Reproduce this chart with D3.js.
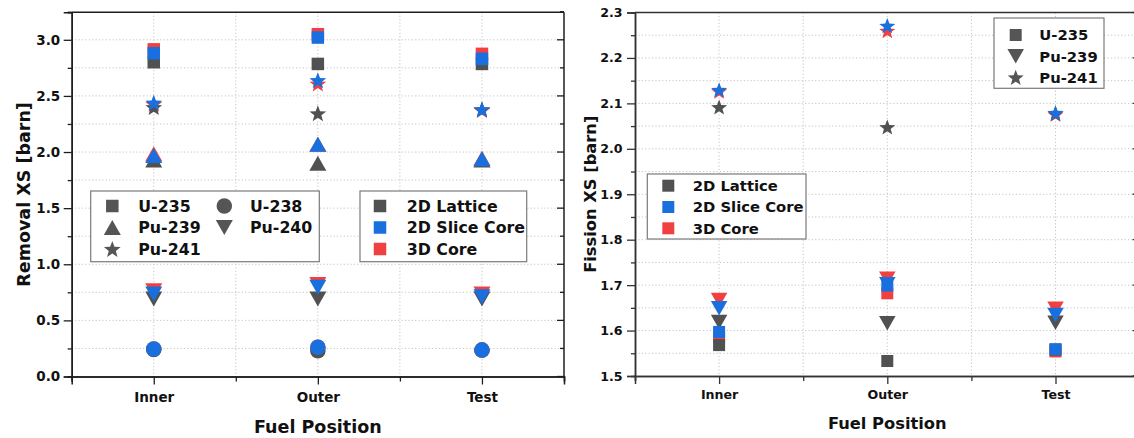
<!DOCTYPE html>
<html>
<head>
<meta charset="utf-8">
<script src="https://cdn.jsdelivr.net/npm/d3@7"></script>
<style>
  body { margin: 0; background: #fff; }
  svg { display: block; }
  text { font-family: "DejaVu Sans", sans-serif; font-weight: bold; fill: #111; }
</style>
</head>
<body>
<svg id="chart" width="1134" height="438"></svg>
<script>
// ---- data ----
const positions = ["Inner", "Outer", "Test"];
const methods = ["2D Lattice", "2D Slice Core", "3D Core"];
const methodColors = ["#515151", "#1a6fdf", "#f14040"];

// Removal cross sections [barn]; rows follow `methods`, columns follow `positions`
const removalU235 = [[2.80, 2.785, 2.785], [2.88, 3.02, 2.83], [2.915, 3.05, 2.875]];
const removalU238 = [[0.24, 0.23, 0.235], [0.245, 0.26, 0.235], [0.245, 0.26, 0.235]];
const removalPu239 = [[1.93, 1.90, 1.93], [1.97, 2.07, 1.94], [1.985, 2.07, 1.945]];
const removalPu240 = [[0.69, 0.69, 0.69], [0.735, 0.795, 0.71], [0.765, 0.82, 0.735]];
const removalPu241 = [[2.40, 2.345, 2.38], [2.44, 2.64, 2.38], [2.43, 2.61, 2.375]];

// Fission cross sections [barn]
const fissionU235 = [[1.568, 1.533, 1.558], [1.597, 1.699, 1.559], [1.585, 1.682, 1.554]];
const fissionPu239 = [[1.619, 1.616, 1.617], [1.649, 1.702, 1.634], [1.667, 1.714, 1.648]];
const fissionPu241 = [[2.092, 2.048, 2.078], [2.130, 2.271, 2.079], [2.127, 2.26, 2.076]];

const removalTicks = [0.0, 0.5, 1.0, 1.5, 2.0, 2.5, 3.0];
const removalMinor = [0.25, 0.75, 1.25, 1.75, 2.25, 2.75, 3.25];
const fissionTicks = [1.5, 1.6, 1.7, 1.8, 1.9, 2.0, 2.1, 2.2, 2.3];
const fissionMinor = [1.55, 1.65, 1.75, 1.85, 1.95, 2.05, 2.15, 2.25];

// ---- marker shapes ----
function markerPath(kind, sz) {
  const p = d3.path();
  if (kind === "square") {
    const a = sz.square / 2;
    p.rect(-a, -a, 2 * a, 2 * a);
  } else if (kind === "circle") {
    p.arc(0, 0, sz.circle / 2, 0, 2 * Math.PI);
  } else if (kind === "up") {
    const w = sz.triW / 2, h = sz.triH / 2;
    p.moveTo(0, -h); p.lineTo(w, h); p.lineTo(-w, h); p.closePath();
  } else if (kind === "down") {
    const w = sz.triW / 2, h = sz.triH / 2;
    p.moveTo(0, h); p.lineTo(w, -h); p.lineTo(-w, -h); p.closePath();
  } else if (kind === "star") {
    const R = sz.star, r = R * 0.42, off = 0.095 * R;
    for (let i = 0; i < 10; i++) {
      const ang = -Math.PI / 2 + i * Math.PI / 5;
      const rad = i % 2 === 0 ? R : r;
      const x = rad * Math.cos(ang), y = rad * Math.sin(ang) + off;
      if (i === 0) p.moveTo(x, y); else p.lineTo(x, y);
    }
    p.closePath();
  }
  return p.toString();
}

const svg = d3.select("#chart");

function drawPanel(cfg) {
  const x = d3.scaleLinear().domain([0.5, 3.5]).range([cfg.left, cfg.right]);
  const y = d3.scaleLinear().domain(cfg.yDomain).range([cfg.bottom, cfg.top]);
  const g = svg.append("g");

  // dotted grid
  const gridY = cfg.ticks.concat(cfg.minor).filter(v => v > cfg.yDomain[0] && v < cfg.yDomain[1]);
  g.append("g").selectAll("line").data(gridY).join("line")
    .attr("x1", cfg.left).attr("x2", cfg.right)
    .attr("y1", d => y(d)).attr("y2", d => y(d))
    .attr("stroke", "#c4c4c4").attr("stroke-width", 1).attr("stroke-dasharray", "1.2,2.2");
  g.append("g").selectAll("line").data([1, 1.5, 2, 2.5, 3]).join("line")
    .attr("x1", d => x(d)).attr("x2", d => x(d))
    .attr("y1", cfg.top).attr("y2", cfg.bottom)
    .attr("stroke", "#c4c4c4").attr("stroke-width", 1).attr("stroke-dasharray", "1.2,2.2");

  // markers: red first, then gray, blue on top
  const drawOrder = [2, 0, 1];
  const mg = g.append("g");
  drawOrder.forEach(m => {
    cfg.series.forEach(s => {
      s.values[m].forEach((v, i) => {
        mg.append("path")
          .attr("d", markerPath(s.kind, cfg.size))
          .attr("transform", `translate(${x(i + 1)},${y(v)})`)
          .attr("fill", methodColors[m]);
      });
    });
  });

  // frame
  g.append("line").attr("x1", cfg.left).attr("x2", cfg.right).attr("y1", cfg.top).attr("y2", cfg.top)
    .attr("stroke", cfg.axisColor).attr("stroke-width", 1.5);
  g.append("line").attr("x1", cfg.right).attr("x2", cfg.right).attr("y1", cfg.top).attr("y2", cfg.bottom)
    .attr("stroke", cfg.axisColor).attr("stroke-width", 1.5);

  // mirrored inward ticks on right edge
  const rt = g.append("g");
  cfg.ticks.forEach(v => rt.append("line").attr("x1", cfg.right).attr("x2", cfg.right - 7)
    .attr("y1", y(v)).attr("y2", y(v)).attr("stroke", cfg.axisColor).attr("stroke-width", 1.3));
  cfg.minor.forEach(v => rt.append("line").attr("x1", cfg.right).attr("x2", cfg.right - 4)
    .attr("y1", y(v)).attr("y2", y(v)).attr("stroke", cfg.axisColor).attr("stroke-width", 1.3));

  // y axis
  const yMinor = g.append("g").attr("transform", `translate(${cfg.left},0)`)
    .call(d3.axisLeft(y).tickValues(cfg.minor).tickSize(4).tickFormat(""));
  const yAxis = g.append("g").attr("transform", `translate(${cfg.left},0)`)
    .call(d3.axisLeft(y).tickValues(cfg.ticks).tickSize(8).tickPadding(cfg.yPad).tickFormat(d3.format(".1f")));
  // x axis
  const xMinor = g.append("g").attr("transform", `translate(0,${cfg.bottom})`)
    .call(d3.axisBottom(x).tickValues([0.5, 1.5, 2.5, 3.5]).tickSize(5).tickFormat(""));
  const xAxis = g.append("g").attr("transform", `translate(0,${cfg.bottom})`)
    .call(d3.axisBottom(x).tickValues([1, 2, 3]).tickSize(8).tickPadding(cfg.xPad)
      .tickFormat(d => positions[d - 1]));

  [yMinor, yAxis, xMinor, xAxis].forEach(a => {
    a.select(".domain").attr("stroke", cfg.axisColor).attr("stroke-width", 1.5);
    a.selectAll(".tick line").attr("stroke", cfg.axisColor).attr("stroke-width", 1.3);
    a.selectAll("text").attr("font-size", cfg.tickFont).attr("fill", "#111")
      .attr("font-family", '"DejaVu Sans", sans-serif').attr("font-weight", "bold");
  });

  // axis titles
  g.append("text").attr("x", x(2)).attr("y", cfg.xTitleY).attr("text-anchor", "middle")
    .attr("font-size", cfg.titleFont).text("Fuel Position");
  g.append("text").attr("transform", `translate(${cfg.yTitleX},${(cfg.top + cfg.bottom) / 2}) rotate(-90)`)
    .attr("text-anchor", "middle").attr("font-size", cfg.titleFont).text(cfg.yTitle);

  // legends
  cfg.legends.forEach(L => {
    const lg = svg.append("g");
    lg.append("rect").attr("x", L.x0).attr("y", L.y0).attr("width", L.x1 - L.x0).attr("height", L.y1 - L.y0)
      .attr("fill", "#fff").attr("stroke", "#7a7a7a").attr("stroke-width", 1.2);
    L.items.forEach(it => {
      const cy = L.rows[it.row];
      lg.append("path").attr("d", markerPath(it.kind, cfg.size))
        .attr("transform", `translate(${L.symX[it.col]},${cy})`).attr("fill", it.color);
      lg.append("text").attr("x", L.textX[it.col]).attr("y", cy).attr("dy", "0.36em")
        .attr("font-size", L.font).text(it.label);
    });
  });
}

const gray = "#555555";

drawPanel({
  left: 71.7, right: 564, top: 12.3, bottom: 376.5,
  yDomain: [0, 3.245], ticks: removalTicks, minor: removalMinor,
  axisColor: "#1e1e1e", yPad: 3.5, xPad: 7.5, tickFont: 13.5, titleFont: 17.5,
  xTitleY: 433, yTitleX: 30, yTitle: "Removal XS [barn]",
  size: { square: 12.5, circle: 15.5, triW: 17, triH: 15, star: 8.8 },
  series: [
    { kind: "square", values: removalU235 },
    { kind: "circle", values: removalU238 },
    { kind: "up", values: removalPu239 },
    { kind: "down", values: removalPu240 },
    { kind: "star", values: removalPu241 }
  ],
  legends: [
    {
      x0: 90.7, x1: 319.3, y0: 191, y1: 261.7, rows: [206, 227.5, 249],
      symX: [112.3, 224.3], textX: [138.3, 250], font: 15.8,
      items: [
        { row: 0, col: 0, kind: "square", color: gray, label: "U-235" },
        { row: 0, col: 1, kind: "circle", color: gray, label: "U-238" },
        { row: 1, col: 0, kind: "up", color: gray, label: "Pu-239" },
        { row: 1, col: 1, kind: "down", color: gray, label: "Pu-240" },
        { row: 2, col: 0, kind: "star", color: gray, label: "Pu-241" }
      ]
    },
    {
      x0: 360, x1: 526.7, y0: 191, y1: 261.7, rows: [206, 227.5, 249],
      symX: [380], textX: [406.7], font: 15.8,
      items: methods.map((m, i) => ({ row: i, col: 0, kind: "square", color: methodColors[i], label: m }))
    }
  ]
});

drawPanel({
  left: 635, right: 1139.6, top: 12.5, bottom: 376,
  yDomain: [1.5, 2.3], ticks: fissionTicks, minor: fissionMinor,
  axisColor: "#333333", yPad: 4.5, xPad: 6, tickFont: 12.6, titleFont: 16.3,
  xTitleY: 428.5, yTitleX: 596, yTitle: "Fission XS [barn]",
  size: { square: 12, circle: 15, triW: 16.5, triH: 14.5, star: 8.4 },
  series: [
    { kind: "square", values: fissionU235 },
    { kind: "down", values: fissionPu239 },
    { kind: "star", values: fissionPu241 }
  ],
  legends: [
    {
      x0: 994, x1: 1104, y0: 18, y1: 88.3, rows: [35, 56.3, 77.3],
      symX: [1015.7], textX: [1039.3], font: 14.8,
      items: [
        { row: 0, col: 0, kind: "square", color: gray, label: "U-235" },
        { row: 1, col: 0, kind: "down", color: gray, label: "Pu-239" },
        { row: 2, col: 0, kind: "star", color: gray, label: "Pu-241" }
      ]
    },
    {
      x0: 647.3, x1: 806, y0: 174, y1: 239, rows: [185.7, 207, 228.3],
      symX: [668.3], textX: [692.7], font: 14.8,
      items: methods.map((m, i) => ({ row: i, col: 0, kind: "square", color: methodColors[i], label: m }))
    }
  ]
});
</script>
</body>
</html>
